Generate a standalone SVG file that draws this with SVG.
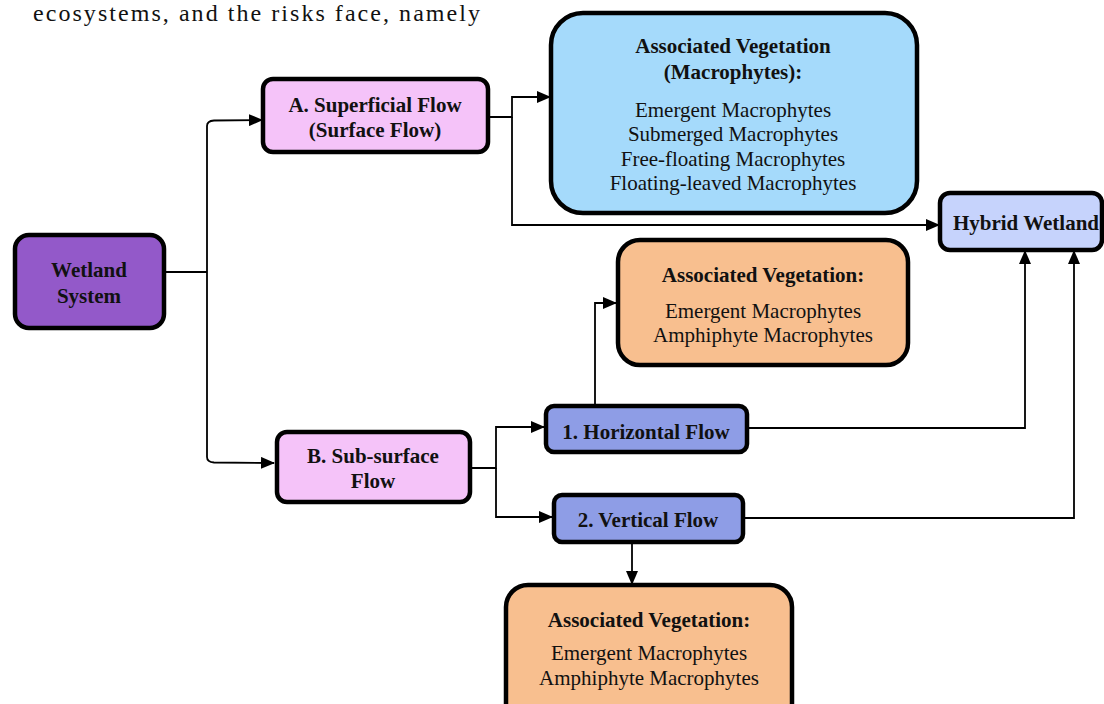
<svg xmlns="http://www.w3.org/2000/svg" width="1104" height="704" viewBox="0 0 1104 704">
<defs>
<marker id="ah" markerWidth="14" markerHeight="12" refX="13" refY="6" orient="auto" markerUnits="userSpaceOnUse">
<path d="M0,0 L14,6 L0,12 Z" fill="#000"/>
</marker>
<style>
.n{stroke:#000;stroke-width:4.5}
.t{font-family:"Liberation Serif","Times New Roman",serif;font-size:21px;fill:#111;text-anchor:middle}
.b{font-weight:bold}
.c{fill:none;stroke:#000;stroke-width:1.8}
</style>
</defs>
<rect width="1104" height="704" fill="#fff"/>
<text x="33" y="21" font-family="Liberation Serif, serif" font-size="24" fill="#111" textLength="447">ecosystems, and the risks face, namely</text>
<g id="connectors">
<path class="c" d="M164,272 H207"/>
<path class="c" d="M207,272 V126 Q207,121 214,120.5 L262,120" marker-end="url(#ah)"/>
<path class="c" d="M207,272 V457 Q207,462 214,462.5 L274,463" marker-end="url(#ah)"/>
<path class="c" d="M488,117 H512 V97 H550" marker-end="url(#ah)"/>
<path class="c" d="M512,117 V225 H939" marker-end="url(#ah)"/>
<path class="c" d="M470,468 H496 V427 H544" marker-end="url(#ah)"/>
<path class="c" d="M496,468 V517 H552" marker-end="url(#ah)"/>
<path class="c" d="M595,405 V303 H616" marker-end="url(#ah)"/>
<path class="c" d="M747,428 H1025 V251" marker-end="url(#ah)"/>
<path class="c" d="M743,518 H1074 V251" marker-end="url(#ah)"/>
<path class="c" d="M632,542 V584" marker-end="url(#ah)"/>
</g>
<g id="wetland">
<rect class="n" x="15" y="235" width="149" height="93" rx="14" fill="#9359C9"/>
<text class="t b" x="89" y="277">Wetland</text>
<text class="t b" x="89" y="303">System</text>
</g>
<g id="superficial">
<rect class="n" x="263" y="79" width="225" height="73" rx="10" fill="#F5C3F9"/>
<text class="t b" x="375" y="112">A. Superficial Flow</text>
<text class="t b" x="375" y="137">(Surface Flow)</text>
</g>
<g id="veg-top">
<rect class="n" x="551" y="13" width="366" height="200" rx="32" fill="#A5DAFB"/>
<text class="t b" x="733" y="53">Associated Vegetation</text>
<text class="t b" x="733" y="79">(Macrophytes):</text>
<text class="t" x="733" y="117">Emergent Macrophytes</text>
<text class="t" x="733" y="141">Submerged Macrophytes</text>
<text class="t" x="733" y="166">Free-floating Macrophytes</text>
<text class="t" x="733" y="190">Floating-leaved Macrophytes</text>
</g>
<g id="hybrid">
<rect class="n" x="940" y="193" width="162" height="57" rx="10" fill="#C6D3FC"/>
<text class="t b" x="1026" y="230">Hybrid Wetland</text>
</g>
<g id="veg-mid">
<rect class="n" x="618" y="240" width="290" height="125" rx="22" fill="#F8BF8F"/>
<text class="t b" x="763" y="282">Associated Vegetation:</text>
<text class="t" x="763" y="318">Emergent Macrophytes</text>
<text class="t" x="763" y="342">Amphiphyte Macrophytes</text>
</g>
<g id="subsurface">
<rect class="n" x="277" y="432" width="193" height="70" rx="10" fill="#F5C3F9"/>
<text class="t b" x="373" y="463">B. Sub-surface</text>
<text class="t b" x="373" y="488">Flow</text>
</g>
<g id="horizontal">
<rect class="n" x="546" y="406" width="201" height="46" rx="8" fill="#8E9DE6"/>
<text class="t b" x="646" y="439">1. Horizontal Flow</text>
</g>
<g id="vertical">
<rect class="n" x="554" y="495" width="189" height="47" rx="8" fill="#8E9DE6"/>
<text class="t b" x="648" y="527">2. Vertical Flow</text>
</g>
<g id="veg-bottom">
<rect class="n" x="506" y="585" width="286" height="140" rx="22" fill="#F8BF8F"/>
<text class="t b" x="649" y="627">Associated Vegetation:</text>
<text class="t" x="649" y="660">Emergent Macrophytes</text>
<text class="t" x="649" y="685">Amphiphyte Macrophytes</text>
</g>
</svg>
